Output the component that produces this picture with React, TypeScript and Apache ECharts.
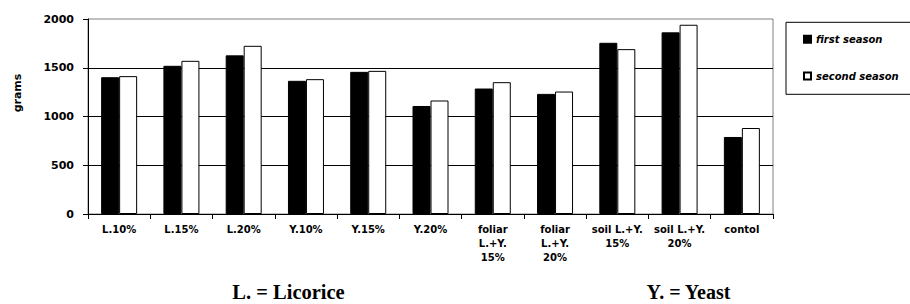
import React, { useEffect, useRef } from "react";
import * as echarts from "echarts";

const categories = [
  "L.10%",
  "L.15%",
  "L.20%",
  "Y.10%",
  "Y.15%",
  "Y.20%",
  "foliar\nL.+Y.\n15%",
  "foliar\nL.+Y.\n20%",
  "soil L.+Y.\n15%",
  "soil L.+Y.\n20%",
  "contol",
];
const firstSeason = [1403, 1520, 1627, 1366, 1458, 1108, 1287, 1232, 1756, 1863, 790];
const secondSeason = [1414, 1571, 1725, 1383, 1468, 1164, 1352, 1256, 1691, 1941, 882];
const seriesNames = ["first season", "second season"];
const yTicks = { min: 0, max: 2000, interval: 500 };

const SANS = "'DejaVu Sans', Arial, sans-serif";
const SERIF = "'Liberation Serif', 'Times New Roman', serif";

export default function App() {
  const ref = useRef<HTMLDivElement>(null);
  useEffect(() => {
    if (!ref.current) return;
    const chart = echarts.init(ref.current, undefined, { renderer: "svg" });
    chart.setOption({
      animation: false,
      backgroundColor: "#ffffff",
      grid: {
        left: 88,
        right: 137,
        top: 19,
        bottom: 90,
        show: true,
        borderColor: "#808080",
        borderWidth: 1,
        backgroundColor: "transparent",
      },
      legend: {
        orient: "vertical",
        left: 803,
        top: 32.3,
        padding: 0,
        itemGap: 22.7,
        itemWidth: 7,
        itemHeight: 7,
        icon: "rect",
        textStyle: {
          fontFamily: SANS,
          fontWeight: "bold",
          fontStyle: "italic",
          fontSize: 10,
          lineHeight: 14,
          color: "#000",
        },
        data: seriesNames,
      },
      xAxis: {
        type: "category",
        data: categories,
        axisLine: { lineStyle: { color: "#000", width: 1 } },
        axisTick: { show: true, length: 5, lineStyle: { color: "#000" } },
        axisLabel: {
          interval: 0,
          margin: 9,
          fontFamily: SANS,
          fontWeight: "bold",
          fontSize: 10,
          lineHeight: 13.7,
          color: "#000",
          align: "center",
        },
      },
      yAxis: {
        type: "value",
        min: yTicks.min,
        max: yTicks.max,
        interval: yTicks.interval,
        axisLine: { show: true, lineStyle: { color: "#000", width: 1 } },
        axisTick: { show: true, length: 5, lineStyle: { color: "#000" } },
        axisLabel: {
          margin: 14,
          fontFamily: SANS,
          fontWeight: "bold",
          fontSize: 11,
          color: "#000",
          formatter: (v: number) => String(v),
        },
        splitLine: {
          show: true,
          showMinLine: false,
          showMaxLine: false,
          lineStyle: { color: "#000", width: 1 },
        },
      },
      series: [
        {
          name: seriesNames[0],
          type: "bar",
          data: firstSeason,
          barWidth: 18,
          barGap: "0%",
          itemStyle: { color: "#000", borderColor: "#000", borderWidth: 1 },
        },
        {
          name: seriesNames[1],
          type: "bar",
          data: secondSeason,
          barWidth: 18,
          barGap: "0%",
          itemStyle: { color: "#fff", borderColor: "#000", borderWidth: 1 },
        },
      ],
      graphic: [
        {
          type: "rect",
          shape: { x: 786, y: 22.3, width: 140, height: 72 },
          style: { fill: "transparent", stroke: "#000", lineWidth: 1 },
          silent: true,
        },
        {
          type: "text",
          x: 17.5,
          y: 93,
          rotation: Math.PI / 2,
          style: {
            text: "grams",
            fontFamily: SANS,
            fontWeight: "bold",
            fontSize: 11,
            fill: "#000000",
            align: "center",
            verticalAlign: "middle",
          },
        },
        {
          type: "text",
          x: 288.5,
          y: 291.5,
          style: {
            text: "L. = Licorice",
            fontFamily: SERIF,
            fontWeight: "bold",
            fontSize: 20.5,
            fill: "#000000",
            align: "center",
            verticalAlign: "middle",
          },
        },
        {
          type: "text",
          x: 688.5,
          y: 291.5,
          style: {
            text: "Y. = Yeast",
            fontFamily: SERIF,
            fontWeight: "bold",
            fontSize: 20,
            fill: "#000000",
            align: "center",
            verticalAlign: "middle",
          },
        },
      ],
    });
    return () => chart.dispose();
  }, []);
  return (
    <div
      ref={ref}
      style={{ position: "fixed", left: 0, top: 0, width: 910, height: 304 }}
    />
  );
}
